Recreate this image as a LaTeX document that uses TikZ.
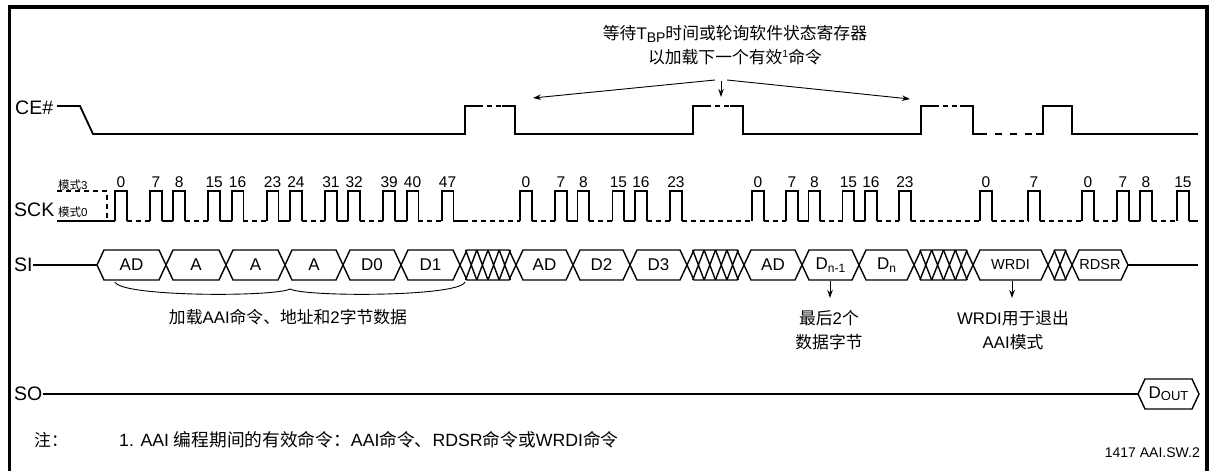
\documentclass[tikz,border=0pt]{standalone}
\usepackage{fontspec}
\setmainfont{Liberation Sans}
\newfontfamily\zhfont{Noto Sans CJK SC}
\newcommand{\zh}[1]{{\zhfont #1}}
\usetikzlibrary{arrows.meta}

\tikzset{
  sig/.style={line width=1.8pt},
  sigdash/.style={sig, dash pattern=on 5pt off 4pt},
  busline/.style={line width=1.4pt},
  sigtxt/.style={font=\fontsize{19.5}{20}\selectfont, inner sep=0pt, anchor=west},
  clktxt/.style={font=\fontsize{15.5}{16}\selectfont, inner sep=0pt, anchor=south},
  bustxt/.style={font=\fontsize{17}{18}\selectfont, inner sep=0pt},
  modetxt/.style={font=\fontsize{11.5}{12}\selectfont, inner sep=0pt, anchor=west},
  notetxt/.style={font=\fontsize{16.8}{24}\selectfont, align=center, inner sep=0pt},
  callout/.style={line width=0.9pt, -{Stealth[length=8pt,width=5.5pt]}}
}

%bus segment: name, left, right, y, label
\newcommand{\busbox}[5]{%
  \draw[busline] (#2,#4) -- (#2+7,#4-15) -- (#3-7,#4-15) -- (#3,#4) -- (#3-7,#4+15) -- (#2+7,#4+15) -- cycle;
  \node[bustxt] (#1) at ({(#2+#3)/2},#4) {#5};
}
%don't care segment on SI: left, right, cells
\newcommand{\hatch}[3]{%
  \draw[busline] (#1,265) -- (#1+7,250) -- (#2-7,250) -- (#2,265) -- (#2-7,280) -- (#1+7,280) -- cycle;
  \pgfmathsetmacro{\hatchw}{(#2-#1)/#3}
  \pgfmathtruncatemacro{\hatchn}{#3-1}
  \foreach \k in {1,...,\hatchn}
    \draw[busline] ({#1+(\k-0.5)*\hatchw},250) -- ({#1+(\k+0.5)*\hatchw},280)
                   ({#1+(\k-0.5)*\hatchw},280) -- ({#1+(\k+0.5)*\hatchw},250);
}

\begin{document}
\begin{tikzpicture}[x=1pt,y=-1pt]
	\useasboundingbox (0,0) rectangle (1212,471);

	%Frame
	\draw[line width=3.5pt] (9.5,471) -- (9.5,7) -- (1207,7) -- (1207,471);

	%Signal names
	\node[sigtxt] (ce) at (15,108) {CE\#};
	\node[sigtxt] (sck) at (14,210) {SCK};
	\node[sigtxt] (si) at (14,265) {SI};
	\node[sigtxt] (so) at (14,394) {SO};

	%CE#
	\draw[sig] (57,106) -- (80,106) -- (93,134) -- (465,134) -- (465,106) -- (478,106);
	\draw[sigdash] (478,106) -- (502,106);
	\draw[sig] (502,106) -- (515,106) -- (515,134) -- (693,134) -- (693,106) -- (706,106);
	\draw[sigdash] (706,106) -- (730,106);
	\draw[sig] (730,106) -- (743,106) -- (743,134) -- (921,134) -- (921,106) -- (934,106);
	\draw[sigdash] (934,106) -- (960,106);
	\draw[sig] (960,106) -- (973,106) -- (973,134) -- (980,134);
	\draw[sig, dash pattern=on 7pt off 8pt] (980,134) -- (1036,134);
	\draw[sig] (1036,134) -- (1043,134) -- (1043,106) -- (1072,106) -- (1072,134) -- (1198,134);

	%Wait note
	\node[notetxt] (wait) at (735,45) {\zh{等待}T\raisebox{-3.5pt}{\fontsize{14}{14}\selectfont BP}\zh{时间或轮询软件状态寄存器}\\\zh{以加载下一个有效}\raisebox{6pt}{\fontsize{10.5}{10.5}\selectfont 1}\zh{命令}};
	\coordinate (wl) at (715,80);
	\coordinate (wm) at (721,81);
	\coordinate (wr) at (727,80);
	\coordinate (ceA) at (533,98);
	\coordinate (ceB) at (721,97);
	\coordinate (ceC) at (910,99);
	\draw[callout] (wl) -- (ceA);
	\draw[callout] (wm) -- (ceB);
	\draw[callout] (wr) -- (ceC);

	%SCK modes
	\node[modetxt] (mode3) at (58,185) {\zh{模式}3};
	\node[modetxt] (mode0) at (58,212.5) {\zh{模式}0};
	\draw[sigdash] (57,191) -- (107,191) -- (107,218);
	\draw[sig] (57,221) -- (115,221);

	%SCK pulses
	\foreach \x/\n [count=\i] in {115/0,150/7,173.3/8,208.3/15,231.7/16,266.7/23,290/24,325/31,348.3/32,383.3/39,406.7/40,441.7/47,
		520/0,555/7,577.5/8,612.5/15,635/16,670/23,
		752/0,786/7,808.5/8,842.5/15,865/16,899/23,
		980/0,1028/7,
		1082/0,1117/7,1140/8,1177/15}{
		\draw[sig, line cap=square] (\x,221) -- (\x,191) -- (\x+11.7,191) -- (\x+11.7,221);
		\node[clktxt] (clk\i) at (\x+5.9,188) {\n};
	}
	%SCK low levels
	\foreach \a/\b in {161.7/173.3,220/231.7,278.3/290,336.7/348.3,395/406.7,453.4/463,
		566.7/577.5,624.2/635,797.7/808.5,854.2/865,1128.7/1140,1188.7/1198}
		\draw[sig] (\a,221) -- (\b,221);
	\foreach \a/\b in {126.7/150,185/208.3,243.4/266.7,301.7/325,360/383.3,418.4/441.7,463/520,
		531.7/555,589.2/612.5,646.7/670,681.7/752,
		763.7/786,820.2/842.5,876.7/899,910.7/980,
		991.7/1028,1039.7/1082,1093.7/1117,1151.7/1177}
		\draw[sigdash] (\a,221) -- (\b,221);

	%SI
	\coordinate (sitip) at (97,265);
	\draw[busline] (si.east) -- (sitip);
	\busbox{ad1}{97}{166}{265}{AD}
	\busbox{a1}{166}{226}{265}{A}
	\busbox{a2}{226}{285}{265}{A}
	\busbox{a3}{285}{343}{265}{A}
	\busbox{d0}{343}{401}{265}{D0}
	\busbox{d1}{401}{460}{265}{D1}
	\hatch{460}{516}{5}
	\busbox{ad2}{516}{573}{265}{AD}
	\busbox{d2}{573}{630}{265}{D2}
	\busbox{d3}{630}{687}{265}{D3}
	\hatch{687}{744}{5}
	\busbox{ad3}{744}{802}{265}{AD}
	\busbox{dn1}{802}{859}{265}{D\raisebox{-3pt}{\fontsize{12}{12}\selectfont n-1}}
	\busbox{dn}{859}{914}{265}{D\raisebox{-3pt}{\fontsize{12}{12}\selectfont n}}
	\hatch{914}{973}{5}
	\busbox{wrdi}{973}{1048}{265}{\fontsize{14.5}{15}\selectfont WRDI}
	\hatch{1048}{1072}{2}
	\busbox{rdsr}{1072}{1128}{265}{\fontsize{14.5}{15}\selectfont RDSR}
	\coordinate (rdsrtip) at (1128,265);
	\coordinate (siend) at (1198,265);
	\draw[busline] (rdsrtip) -- (siend);

	%Brace under first command
	\coordinate (brl) at (115,282);
	\coordinate (brm) at (290,289);
	\coordinate (brr) at (465,282);
	\draw[line width=0.9pt] (brl) .. controls (121,297) and (275,297) .. (brm) .. controls (305,297) and (459,297) .. (brr);
	\node[notetxt] (loadnote) at (288,317) {\zh{加载}AAI\zh{命令、地址和}2\zh{字节数据}};

	%Callouts below SI
	\coordinate (dnfoot) at (830,281);
	\coordinate (dntip) at (830,298);
	\draw[callout] (dnfoot) -- (dntip);
	\node[notetxt] (lastbytes) at (829,330) {\zh{最后}2\zh{个}\\\zh{数据字节}};
	\coordinate (wrfoot) at (1012,281);
	\coordinate (wrtip) at (1012,298);
	\draw[callout] (wrfoot) -- (wrtip);
	\node[notetxt] (exitnote) at (1013,330) {WRDI\zh{用于退出}\\AAI\zh{模式}};

	%SO
	\coordinate (dotip) at (1138,394);
	\draw[busline] (so.east) -- (dotip);
	\busbox{dout}{1138}{1199}{394}{D\raisebox{-2pt}{\fontsize{13}{13}\selectfont OUT}}

	%Notes
	\node[notetxt, anchor=west] (notehead) at (34,440) {\zh{注：}};
	\node[notetxt, anchor=west, font=\fontsize{17.7}{24}\selectfont] (notebody) at (119,440) {1. AAI \zh{编程期间的有效命令：}AAI\zh{命令、}RDSR\zh{命令或}WRDI\zh{命令}};
	\node[font=\fontsize{14}{14}\selectfont, inner sep=0pt, anchor=east] (figid) at (1200,453) {1417 AAI.SW.2};

\end{tikzpicture}
\end{document}
